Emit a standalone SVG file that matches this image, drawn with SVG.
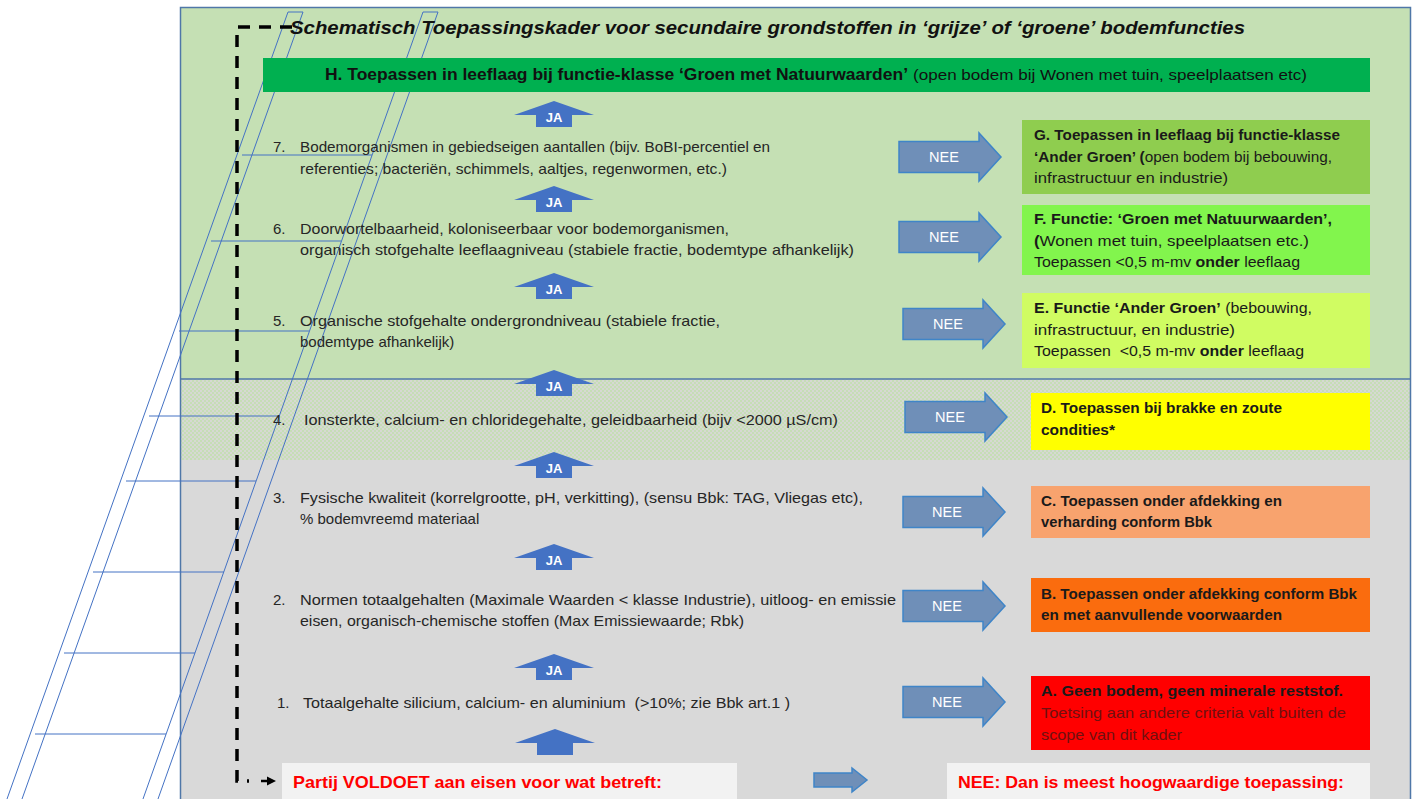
<svg xmlns="http://www.w3.org/2000/svg" width="1418" height="799" viewBox="0 0 1418 799">
<style>
text{font-family:"Liberation Sans",Arial,sans-serif;}
.row{font-size:15px;fill:#262626;}
.num{font-size:15px;fill:#262626;}
.box{font-size:15px;fill:#1a1a1a;}
.b{font-weight:bold;}
.ja{font-size:13px;font-weight:bold;fill:#ffffff;text-anchor:middle;}
.nee{font-size:14.5px;fill:#ffffff;text-anchor:middle;}
.jaarrow{fill:#4472c4;}
.neearrow{fill:#6f8fb8;stroke:#3f85c8;stroke-width:1.5;}
.ladder line{stroke:#4472c4;stroke-width:1;}
.red{font-size:17px;font-weight:bold;fill:#ff0000;}
</style>
<defs>
<pattern id="hatch" width="4" height="4" patternUnits="userSpaceOnUse">
<rect width="4" height="4" fill="#d6d9d2"/>
<rect width="2" height="2" fill="#c6ddb6"/>
<rect x="2" y="2" width="2" height="2" fill="#c6ddb6"/>
</pattern>
<path id="up" d="M0,0 L40,14 L18,14 L18,26 L-18,26 L-18,14 L-40,14 Z"/>
<path id="right" d="M0,-15.5 H80 V-24 L102,0 L80,24 V15.5 H0 Z"/>
</defs>

<rect width="1418" height="799" fill="#ffffff"/>

<g id="frame">
<rect x="180" y="7" width="1231" height="372" fill="#c5e0b4"/>
<rect x="180" y="379" width="1231" height="81" fill="url(#hatch)"/>
<rect x="180" y="460" width="1231" height="350" fill="#d9d9d9"/>
<line x1="180" y1="379" x2="1411" y2="379" stroke="#4f77a8" stroke-width="1.5"/>
<rect x="180.5" y="7.5" width="1230" height="810" fill="none" stroke="#4f77a8" stroke-width="1.5"/>
</g>

<g class="ladder">
<line x1="288" y1="12" x2="7" y2="799"/>
<line x1="303" y1="12" x2="22" y2="799"/>
<line x1="288" y1="12" x2="303" y2="12"/>
<line x1="423" y1="12" x2="143" y2="799"/>
<line x1="438" y1="12" x2="158" y2="799"/>
<line x1="423" y1="12" x2="438" y2="12"/>
<line x1="242" y1="155" x2="372" y2="155"/>
<line x1="211" y1="241" x2="341" y2="241"/>
<line x1="179" y1="331" x2="309" y2="331"/>
<line x1="149" y1="416" x2="279" y2="416"/>
<line x1="126" y1="481" x2="256" y2="481"/>
<line x1="93" y1="572" x2="224" y2="572"/>
<line x1="64" y1="653" x2="195" y2="653"/>
<line x1="35" y1="734" x2="166" y2="734"/>
</g>

<g id="title">
<text x="290" y="34" font-size="19" font-weight="bold" font-style="italic" fill="#111" textLength="955" lengthAdjust="spacingAndGlyphs">Schematisch Toepassingskader voor secundaire grondstoffen in ‘grijze’ of ‘groene’ bodemfuncties</text>
</g>

<g id="connectors">
<path d="M292,27 H237 V781 H249" fill="none" stroke="#000" stroke-width="3.5" stroke-dasharray="12 9"/>
<line x1="261" y1="781" x2="269" y2="781" stroke="#000" stroke-width="2.5"/>
<polygon points="267,776.5 276,781 267,785.5" fill="#000"/>
<g id="ja-arrows">
<use href="#up" class="jaarrow" x="554" y="101"/>
<text class="ja" x="554" y="122">JA</text>
<use href="#up" class="jaarrow" x="554" y="186"/>
<text class="ja" x="554" y="207">JA</text>
<use href="#up" class="jaarrow" x="554" y="273"/>
<text class="ja" x="554" y="294">JA</text>
<use href="#up" class="jaarrow" x="554" y="370"/>
<text class="ja" x="554" y="391">JA</text>
<use href="#up" class="jaarrow" x="554" y="452"/>
<text class="ja" x="554" y="473">JA</text>
<use href="#up" class="jaarrow" x="554" y="544"/>
<text class="ja" x="554" y="565">JA</text>
<use href="#up" class="jaarrow" x="554" y="654"/>
<text class="ja" x="554" y="675">JA</text>
<use href="#up" class="jaarrow" x="555" y="729"/>
</g>
<g id="nee-arrows">
<use href="#right" class="neearrow" x="899" y="157"/>
<text class="nee" x="944" y="162">NEE</text>
<use href="#right" class="neearrow" x="899" y="237"/>
<text class="nee" x="944" y="242">NEE</text>
<use href="#right" class="neearrow" x="903" y="324"/>
<text class="nee" x="948" y="329">NEE</text>
<use href="#right" class="neearrow" x="905" y="417"/>
<text class="nee" x="950" y="422">NEE</text>
<use href="#right" class="neearrow" x="903" y="512"/>
<text class="nee" x="947" y="517">NEE</text>
<use href="#right" class="neearrow" x="903" y="606"/>
<text class="nee" x="947" y="611">NEE</text>
<use href="#right" class="neearrow" x="903" y="702"/>
<text class="nee" x="947" y="707">NEE</text>
<path d="M814,773 H852 V768 L867,780 L852,792 V787 H814 Z" class="neearrow"/>
</g>
</g>

<g id="node-H">
<rect x="263" y="58" width="1107" height="34" fill="#00b050"/>
<text x="325" y="80" font-size="16.5" font-weight="bold" fill="#111" textLength="583" lengthAdjust="spacingAndGlyphs">H. Toepassen in leeflaag bij functie-klasse ‘Groen met Natuurwaarden’</text>
<text x="913" y="80" font-size="15" fill="#111" textLength="394" lengthAdjust="spacingAndGlyphs">(open bodem bij Wonen met tuin, speelplaatsen etc)</text>
</g>

<g id="node-7">
<text class="num" x="273" y="152">7.</text>
<text class="row" x="300" y="152" textLength="470" lengthAdjust="spacingAndGlyphs">Bodemorganismen in gebiedseigen aantallen (bijv. BoBI-percentiel en</text>
<text class="row" x="300" y="174" textLength="427" lengthAdjust="spacingAndGlyphs">referenties; bacteriën, schimmels, aaltjes, regenwormen, etc.)</text>
</g>
<g id="node-6">
<text class="num" x="273" y="234">6.</text>
<text class="row" x="300" y="234" textLength="429" lengthAdjust="spacingAndGlyphs">Doorwortelbaarheid, koloniseerbaar voor bodemorganismen,</text>
<text class="row" x="300" y="255" textLength="554" lengthAdjust="spacingAndGlyphs">organisch stofgehalte leeflaagniveau (stabiele fractie, bodemtype afhankelijk)</text>
</g>
<g id="node-5">
<text class="num" x="273" y="326">5.</text>
<text class="row" x="300" y="326" textLength="420" lengthAdjust="spacingAndGlyphs">Organische stofgehalte ondergrondniveau (stabiele fractie,</text>
<text class="row" x="300" y="347">bodemtype afhankelijk)</text>
</g>
<g id="node-4">
<text class="num" x="273" y="425">4.</text>
<text class="row" x="304" y="425" textLength="534" lengthAdjust="spacingAndGlyphs">Ionsterkte, calcium- en chloridegehalte, geleidbaarheid (bijv &lt;2000 µS/cm)</text>
</g>
<g id="node-3">
<text class="num" x="273" y="503">3.</text>
<text class="row" x="300" y="503" textLength="563" lengthAdjust="spacingAndGlyphs">Fysische kwaliteit (korrelgrootte, pH, verkitting), (sensu Bbk: TAG, Vliegas etc),</text>
<text class="row" x="300" y="524">% bodemvreemd materiaal</text>
</g>
<g id="node-2">
<text class="num" x="273" y="605">2.</text>
<text class="row" x="300" y="605" textLength="596" lengthAdjust="spacingAndGlyphs">Normen totaalgehalten (Maximale Waarden &lt; klasse Industrie), uitloog- en emissie</text>
<text class="row" x="300" y="626" textLength="444" lengthAdjust="spacingAndGlyphs">eisen, organisch-chemische stoffen (Max Emissiewaarde; Rbk)</text>
</g>
<g id="node-1">
<text class="num" x="277" y="708">1.</text>
<text class="row" x="303" y="708" xml:space="preserve" textLength="487" lengthAdjust="spacingAndGlyphs">Totaalgehalte silicium, calcium- en aluminium  (&gt;10%; zie Bbk art.1 )</text>
</g>

<g id="node-G">
<rect x="1022" y="120" width="348" height="74" fill="#8fcd4f"/>
<text class="box b" x="1034" y="140" textLength="306" lengthAdjust="spacingAndGlyphs">G. Toepassen in leeflaag bij functie-klasse</text>
<text class="box" x="1034" y="162" textLength="298" lengthAdjust="spacingAndGlyphs"><tspan class="b">‘Ander Groen’ (</tspan>open bodem bij bebouwing,</text>
<text class="box" x="1034" y="183" textLength="194" lengthAdjust="spacingAndGlyphs">infrastructuur en industrie)</text>
</g>
<g id="node-F">
<rect x="1022" y="205" width="348" height="70" fill="#82f54d"/>
<text class="box b" x="1034" y="224" textLength="298" lengthAdjust="spacingAndGlyphs">F. Functie: ‘Groen met Natuurwaarden’,</text>
<text class="box" x="1034" y="246" textLength="275" lengthAdjust="spacingAndGlyphs"><tspan class="b">(</tspan>Wonen met tuin, speelplaatsen etc.)</text>
<text class="box" x="1034" y="267" textLength="266" lengthAdjust="spacingAndGlyphs">Toepassen &lt;0,5 m-mv <tspan class="b">onder</tspan> leeflaag</text>
</g>
<g id="node-E">
<rect x="1022" y="293" width="348" height="75" fill="#d0fc62"/>
<text class="box" x="1034" y="313" textLength="278" lengthAdjust="spacingAndGlyphs"><tspan class="b">E. Functie ‘Ander Groen’</tspan> (bebouwing,</text>
<text class="box" x="1034" y="335" textLength="201" lengthAdjust="spacingAndGlyphs">infrastructuur, en industrie)</text>
<text class="box" x="1034" y="356" xml:space="preserve" textLength="270" lengthAdjust="spacingAndGlyphs">Toepassen  &lt;0,5 m-mv <tspan class="b">onder</tspan> leeflaag</text>
</g>
<g id="node-D">
<rect x="1031" y="393" width="339" height="57" fill="#ffff00"/>
<text class="box b" x="1041" y="413" textLength="241" lengthAdjust="spacingAndGlyphs">D. Toepassen bij brakke en zoute</text>
<text class="box b" x="1041" y="435" textLength="74" lengthAdjust="spacingAndGlyphs">condities*</text>
</g>
<g id="node-C">
<rect x="1031" y="486" width="339" height="52" fill="#f8a36e"/>
<text class="box b" x="1041" y="506" textLength="241" lengthAdjust="spacingAndGlyphs">C. Toepassen onder afdekking en</text>
<text class="box b" x="1041" y="527" textLength="171" lengthAdjust="spacingAndGlyphs">verharding conform Bbk</text>
</g>
<g id="node-B">
<rect x="1031" y="578" width="339" height="54" fill="#fa6c0e"/>
<text class="box b" x="1041" y="599" textLength="316" lengthAdjust="spacingAndGlyphs">B. Toepassen onder afdekking conform Bbk</text>
<text class="box b" x="1041" y="620" textLength="241" lengthAdjust="spacingAndGlyphs">en met aanvullende voorwaarden</text>
</g>
<g id="node-A">
<rect x="1031" y="676" width="339" height="74" fill="#ff0000"/>
<text class="box b" x="1041" y="696" fill="#1a0505" textLength="302" lengthAdjust="spacingAndGlyphs">A. Geen bodem, geen minerale reststof.</text>
<text class="box" x="1041" y="718" style="fill:#701010" textLength="305" lengthAdjust="spacingAndGlyphs">Toetsing aan andere criteria valt buiten de</text>
<text class="box" x="1041" y="740" style="fill:#701010" textLength="141" lengthAdjust="spacingAndGlyphs">scope van dit kader</text>
</g>

<g id="node-voldoet">
<rect x="282" y="763" width="455" height="40" fill="#f2f2f2"/>
<text class="red" x="293" y="788" textLength="369" lengthAdjust="spacingAndGlyphs">Partij VOLDOET aan eisen voor wat betreft:</text>
</g>
<g id="node-nee">
<rect x="947" y="763" width="423" height="40" fill="#f2f2f2"/>
<text class="red" x="958" y="788" textLength="386" lengthAdjust="spacingAndGlyphs">NEE: Dan is meest hoogwaardige toepassing:</text>
</g>
</svg>
